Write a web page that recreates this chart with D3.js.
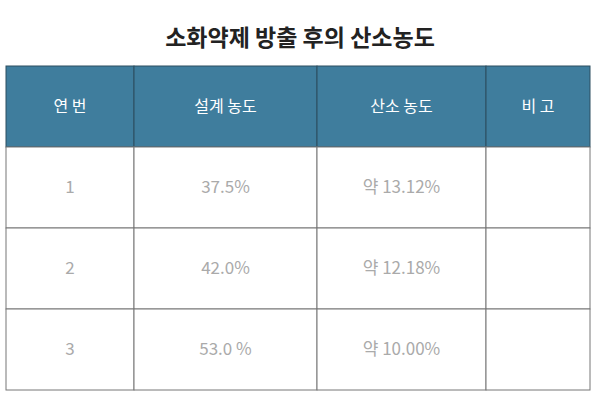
<!DOCTYPE html>
<html><head><meta charset="utf-8">
<script src="https://cdn.jsdelivr.net/npm/d3@7"></script>
<style>body{margin:0;background:#fff}</style></head>
<body><svg id="c" width="600" height="400"></svg>
<script>
const title = "소화약제 방출 후의 산소농도";
const headers = ["연 번", "설계 농도", "산소 농도", "비 고"];
const col1 = ["1", "2", "3"];
const col2 = ["37.5%", "42.0%", "53.0 %"];
const col3 = ["약 13.12%", "약 12.18%", "약 10.00%"];
const col4 = ["", "", ""];

const svg = d3.select("#c");
const font = "'Noto Sans CJK KR','Noto Sans',sans-serif";
svg.append("text").attr("x",300).attr("y",46).attr("text-anchor","middle")
  .attr("font-family",font).attr("font-weight","bold").attr("font-size",23).attr("fill","#222").text(title);

const edges = [6,134,317,486,590];
const rows = [headers, ...col1.map((d,i)=>[d,col2[i],col3[i],col4[i]])];
const y = d3.scaleBand().domain(d3.range(rows.length)).range([66,390]);

rows.forEach((r,ri)=>{
  r.forEach((t,ci)=>{
    const x0=edges[ci], x1=edges[ci+1];
    svg.append("rect").attr("x",x0).attr("y",y(ri)).attr("width",x1-x0).attr("height",y.bandwidth())
      .attr("fill",ri===0?"#3f7d9d":"#fff").attr("stroke",ri===0?"#2d4f60":"#777").attr("stroke-width",1);
    svg.append("text").attr("x",(x0+x1)/2).attr("y",y(ri)+y.bandwidth()/2).attr("dy","0.35em")
      .attr("text-anchor","middle").attr("font-family",font).attr("font-size",ri===0?16:17)
      .attr("fill",ri===0?"#fff":"#aaa").text(t);
  });
});
</script></body></html>
